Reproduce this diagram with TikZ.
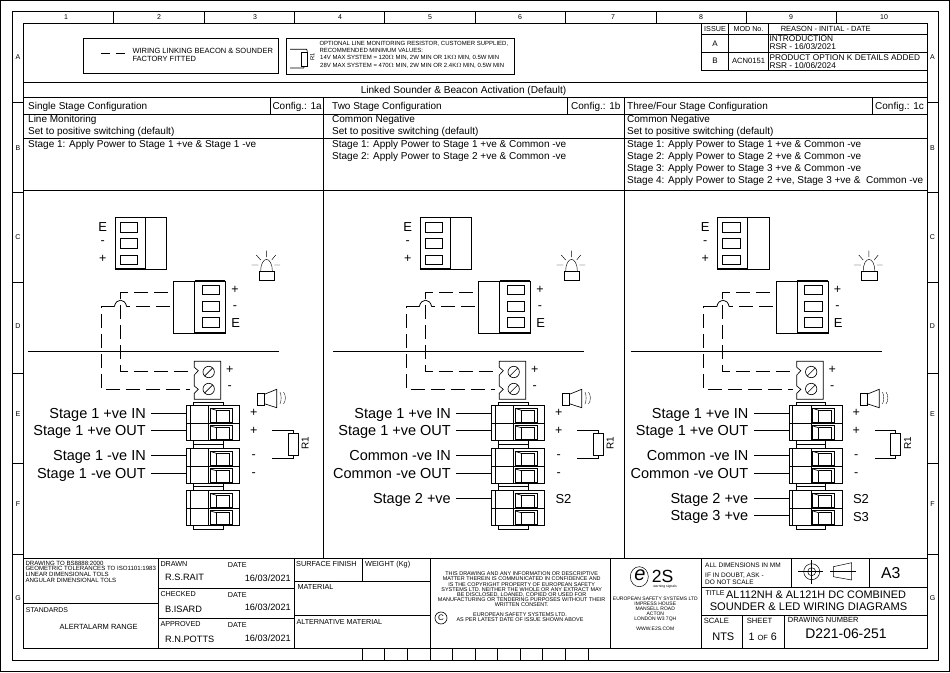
\documentclass[tikz,border=0pt]{standalone}
\usepackage{fontspec}
\setmainfont{Liberation Sans}
\usetikzlibrary{positioning, shapes.geometric}

\tikzset{
    fsz/.style={font=\fontsize{#1}{#1}\selectfont, inner sep=0pt, text height=#1pt*0.72, text depth=0pt},
    lft/.style={fsz=#1, anchor=west},
    rgt/.style={fsz=#1, anchor=east},
    mid/.style={fsz=#1, anchor=center},
    frm/.style={line width=0.8pt},
    thn/.style={line width=0.65pt},
    wire/.style={line width=0.75pt, dash pattern=on 14pt off 6pt},
    lbl/.style={font=\fontsize{14.5}{14.5}\selectfont, inner xsep=5.3pt, inner ysep=0pt, text height=10.44pt, text depth=0pt, anchor=east},
    sign/.style={font=\fontsize{12.5}{12.5}\selectfont, inner sep=0pt, anchor=center},
    blk/.style={inner sep=0pt, align=#1},
    boxnode/.style={draw, thn, anchor=north west, inner sep=0pt},
    % two way plug of the main terminal block
    termpair/.pic={
        \node [boxnode, minimum width=53pt, minimum height=35pt] (-box) at (0,0) {};
        \draw [thn] (0,18) -- (53,18) (4,0) -- (4,35) (22.4,0) -- (22.4,35);
        \foreach \cy in {3,20.5} {
            \draw [thn] (23.7,\cy) rectangle ++(22.3,13.8);
            \draw [thn] (30,\cy+2) -- (30,\cy+13.8) (42.8,\cy+2) -- (42.8,\cy+13.8);
            \draw [line width=1.1pt] (30,\cy+2) -- (43.5,\cy+2);
            \draw [thn] (23.7,\cy) -- (30,\cy+2);
        }
    }
}

\begin{document}
\begin{tikzpicture}[x=1pt, y=-1pt]
    \useasboundingbox (0,0) rectangle (950,672);

    % sheet frame
    \draw [frm] (0.5,0.5) rectangle (949.5,671.5);
    \draw [frm] (12.3,11.7) rectangle (938.7,660.3);
    \draw [frm] (23.7,23.3) rectangle (927.3,648.3);

    % zones
    \foreach \tx in {113.7,204.3,294.7,384.3,475.3,565,656,746.7,836} {
        \draw [frm] (\tx,11.7) -- (\tx,23.3);
    }
    \foreach \tx in {362.3,384.3,407.3,430,452.7,475,497.7,520.7,542.7,565.7,588.7} {
        \draw [frm] (\tx,648.3) -- (\tx,660.3);
    }
    \foreach \ty in {102.7,192.3,282.3,373.3,463.3,554} {
        \draw [frm] (12.3,\ty) -- (23.7,\ty);
        \draw [frm] (927.3,\ty) -- (938.7,\ty);
    }
    \foreach \nx/\nt in {66/1,159/2,255/3,340/4,430/5,520/6,613/7,701/8,791/9,884/10} {
        \node [mid=7] (Zn\nt) at (\nx,16.5) {\nt};
    }
    \foreach \ny/\nt in {57/A,148/B,237/C,326/D,414/E,504/F,598/G} {
        \node [mid=7] (ZL\nt) at (18,\ny) {\nt};
        \node [mid=7] (ZR\nt) at (932.5,\ny) {\nt};
    }

    % legend boxes
    \node [boxnode, minimum width=195pt, minimum height=35pt] (LegA) at (83.3,38.3) {};
    \coordinate (DashA) at (101,53.3);
    \coordinate (DashB) at (125,53.3);
    \draw [line width=0.75pt, dash pattern=on 9pt off 5.6pt] (DashA) -- (DashB);
    \node [lft=7.5] (LegAa) at (132.3,50.3) {WIRING LINKING BEACON \& SOUNDER};
    \node [lft=7.5] (LegAb) at (132.3,58.3) {FACTORY FITTED};

    \node [boxnode, minimum width=228pt, minimum height=36pt] (LegB) at (285.7,38.3) {};
    \node [boxnode, minimum width=6pt, minimum height=14.6pt] (LegR) at (300.7,51.7) {};
    \draw [thn] (290,49.3) -- (306.7,49.3) -- (LegR.north east);
    \draw [thn] (290,68) -- (303.7,68) -- (LegR.south);
    \node [mid=5.8, rotate=90] (LegRtxt) at (312.3,57) {R1};
    \node [lft=6] (LegB1) at (319.3,43.7) {OPTIONAL LINE MONITORING RESISTOR, CUSTOMER SUPPLIED,};
    \node [lft=6] (LegB2) at (319.3,50.7) {RECOMMENDED MINIMUM VALUES:};
    \node [lft=6] (LegB3) at (320,57.8) {14V MAX SYSTEM = 120$\Omega$ MIN, 2W MIN OR 1K$\Omega$ MIN, 0.5W MIN};
    \node [lft=6] (LegB4) at (320,65) {28V MAX SYSTEM = 470$\Omega$ MIN, 2W MIN OR 2.4K$\Omega$ MIN, 0.5W MIN};

    % issue table
    \draw [frm] (701.7,23.3) -- (701.7,70.3) -- (927.3,70.3);
    \draw [frm] (728.7,23.3) -- (728.7,70.3) (768.3,23.3) -- (768.3,70.3);
    \draw [frm] (701.7,34) -- (927.3,34) (701.7,52.3) -- (927.3,52.3);
    \node [mid=7.2] (IssH) at (715,28.5) {ISSUE};
    \node [mid=7.2] (ModH) at (748.5,28.5) {MOD No.};
    \node [mid=7.5] (ReaH) at (825.7,28.5) {REASON - INITIAL - DATE};
    \node [mid=8] (IssA) at (715,43.5) {A};
    \node [mid=8] (IssB) at (715,61) {B};
    \node [mid=7.6] (ModB) at (748.5,61) {ACN0151};
    \node [lft=8.3] (ReaA1) at (769.3,39) {INTRODUCTION};
    \node [lft=8.3] (ReaA2) at (769.3,47) {RSR - 16/03/2021};
    \node [lft=8.3] (ReaB1) at (769.3,57.5) {PRODUCT OPTION K DETAILS ADDED};
    \node [lft=8.3] (ReaB2) at (769.3,66) {RSR - 10/06/2024};

    % table head
    \draw [frm] (23.7,82.7) -- (927.3,82.7) (23.7,97.5) -- (927.3,97.5);
    \draw [frm] (23.7,114) -- (927.3,114) (23.7,138) -- (927.3,138) (23.7,190.7) -- (927.3,190.7);
    \draw [frm] (323.5,97.5) -- (323.5,558.3) (624.7,97.5) -- (624.7,558.3);
    \draw [frm] (270.7,97.5) -- (270.7,114) (567,97.5) -- (567,114) (872,97.5) -- (872,114);
    \node [mid=10.1] (Head) at (463.5,90) {Linked Sounder \& Beacon Activation (Default)};
    \node [lft=10] (Cfg1) at (28,106) {Single Stage Configuration};
    \node [lft=10] (Cfg2) at (332,106) {Two Stage Configuration};
    \node [lft=10] (Cfg3) at (627,106) {Three/Four Stage Configuration};
    \node [lft=10] (Cfg1n) at (272.3,106) {Config.: 1a};
    \node [lft=10] (Cfg2n) at (571,106) {Config.: 1b};
    \node [lft=10] (Cfg3n) at (875,106) {Config.: 1c};
    \node [lft=10] (Mon1) at (28,119) {Line Monitoring};
    \node [lft=10] (Mon2) at (332,119) {Common Negative};
    \node [lft=10] (Mon3) at (627,119) {Common Negative};
    \node [lft=10] (Pos1) at (28,131) {Set to positive switching (default)};
    \node [lft=10] (Pos2) at (332,131) {Set to positive switching (default)};
    \node [lft=10] (Pos3) at (627,131) {Set to positive switching (default)};
    \node [lft=10] (Sta1) at (28,144) {Stage 1: Apply Power to Stage 1 +ve \& Stage 1 -ve};
    \node [lft=10] (Stb1) at (332,144) {Stage 1: Apply Power to Stage 1 +ve \& Common -ve};
    \node [lft=10] (Stb2) at (332,156) {Stage 2: Apply Power to Stage 2 +ve \& Common -ve};
    \node [lft=10] (Stc1) at (627,144) {Stage 1: Apply Power to Stage 1 +ve \& Common -ve};
    \node [lft=10] (Stc2) at (627,156) {Stage 2: Apply Power to Stage 2 +ve \& Common -ve};
    \node [lft=10] (Stc3) at (627,168) {Stage 3: Apply Power to Stage 3 +ve \& Common -ve};
    \node [lft=10] (Stc4) at (627,180) {Stage 4: Apply Power to Stage 2 +ve, Stage 3 +ve \&\ \ Common -ve};

    % the three wiring panels
    \foreach \dx/\pn/\La/\Lb/\Lc/\Ld in {
        0/a/Stage 1 +ve IN/Stage 1 +ve OUT/Stage 1 -ve IN/Stage 1 -ve OUT,
        305/b/Stage 1 +ve IN/Stage 1 +ve OUT/Common -ve IN/Common -ve OUT,
        602.5/c/Stage 1 +ve IN/Stage 1 +ve OUT/Common -ve IN/Common -ve OUT} {
    \begin{scope}[shift={(\dx,0)}]
        % beacon plug, upper
        \node [boxnode, minimum width=51.6pt, minimum height=51.4pt] (\pn-Top) at (114.7,217.3) {};
        \draw [thn] (145.3,217.3) -- (145.3,268.7);
        \draw [line width=1.2pt] (114.7,217.3) -- (145.3,217.3) (114.7,268.7) -- (145.3,268.7);
        \draw [thn] (120.3,222.7) rectangle (137.7,232.7) (120.3,238.3) rectangle (137.7,248.3) (120.3,255) rectangle (137.7,264.3);
        \node [mid=13] (\pn-TopE) at (102.7,227) {E};
        \node [sign] (\pn-TopM) at (102.7,243) {-};
        \node [sign] (\pn-TopP) at (102.7,259) {+};

        % beacon plug, lower
        \node [boxnode, minimum width=52pt, minimum height=51.7pt] (\pn-Bot) at (173.3,281) {};
        \draw [thn] (194.7,281) -- (194.7,332.7);
        \draw [line width=1.2pt] (194.7,281) -- (225.3,281) (194.7,332.7) -- (225.3,332.7);
        \draw [thn] (202.3,285.3) rectangle (219.7,294.7) (202.3,301.3) rectangle (219.7,311.3) (202.3,317.3) rectangle (219.7,327.3);
        \node [sign] (\pn-BotP) at (235,290) {+};
        \node [sign] (\pn-BotM) at (235,308) {-};
        \node [mid=13] (\pn-BotE) at (235.6,323) {E};

        % beacon symbol
        \draw [line width=0.45pt] (260.7,271.3) .. controls (260.7,255.5) and (272.3,255.5) .. (272.3,271.3);
        \draw [line width=0.45pt] (266.3,250.7) -- (266.3,257) (251.7,265) -- (258.3,265) (274.3,265) -- (280,265) (256.3,255) -- (260.7,260) (275.7,255) -- (271.7,260);
        \node [boxnode, minimum width=15.6pt, minimum height=9pt] (\pn-Bcn) at (258.7,271.3) {};

        % screw terminal
        \draw [thn] (194.3,361.3) -- (220.7,361.3) -- (220.7,399.3) -- (194.3,399.3) -- (194.3,393.3) -- (198.3,389.3) -- (194.3,386) -- (194.3,375) -- (198.3,370.7) -- (194.3,367.3) -- cycle;
        \foreach \sy in {372,389} {
            \draw [thn] (208.7,\sy) circle [radius=5.7];
            \draw [thn] (204.6,\sy+4.1) -- (212.8,\sy-4.1);
        }
        \coordinate (\pn-ScrP) at (191,371.7);
        \coordinate (\pn-ScrM) at (190,389.3);
        \node [sign] (\pn-ScrPl) at (229.7,370) {+};
        \node [sign] (\pn-ScrMi) at (229.7,388) {-};

        % linking wires
        \coordinate (\pn-LinkP) at (167.7,292.3);
        \coordinate (\pn-LinkM) at (170,306.7);
        \draw [wire] (\pn-LinkP) -- (120.3,292.3) -- (120.3,371.7) -- (\pn-ScrP);
        \draw [wire] (\pn-LinkM) -- (126.7,306.7);
        \draw [line width=0.75pt] (126.7,306.7) .. controls (125,298) and (116,298) .. (114.3,306.7);
        \draw [wire] (114.3,306.7) -- (101.3,306.7) -- (101.3,389.3) -- (\pn-ScrM);

        % divider
        \coordinate (\pn-DivL) at (28,351.3);
        \coordinate (\pn-DivR) at (279,351.3);
        \draw [frm] (\pn-DivL) -- (\pn-DivR);

        % main terminal block
        \pic (\pn-B1) at (186.3,405.3) {termpair};
        \pic (\pn-B2) at (186.3,448.3) {termpair};
        \pic (\pn-B3) at (186.3,490.3) {termpair};
        \draw [thn] (193.7,405.3) -- (193.7,402.3) -- (223.3,402.3) -- (223.3,405.3);
        \draw [thn] (193.7,440.3) -- (193.7,448.3) (223.3,440.3) -- (223.3,448.3);
        \draw [thn] (193.7,483.3) -- (193.7,490.3) (223.3,483.3) -- (223.3,490.3);
        \draw [thn] (193.7,525.3) -- (193.7,529.3) -- (223.3,529.3) -- (223.3,525.3);
        \draw [line width=1pt] (193.7,444.3) -- (223.3,444.3) (193.7,486.7) -- (223.3,486.7);

        \node [lbl] (\pn-L1) at (151.3,413.3) {\La};
        \node [lbl] (\pn-L2) at (151.3,430.7) {\Lb};
        \node [lbl] (\pn-L3) at (151.3,455.7) {\Lc};
        \node [lbl] (\pn-L4) at (151.3,473.3) {\Ld};
        \draw [thn] (\pn-L1.east) -- (\pn-L1.east -| \pn-B1-box.west);
        \draw [thn] (\pn-L2.east) -- (\pn-L2.east -| \pn-B1-box.west);
        \draw [thn] (\pn-L3.east) -- (\pn-L3.east -| \pn-B2-box.west);
        \draw [thn] (\pn-L4.east) -- (\pn-L4.east -| \pn-B2-box.west);
        \node [sign] (\pn-S1) at (253.7,413.3) {+};
        \node [sign] (\pn-S2) at (253.7,431) {+};
        \node [sign] (\pn-S3) at (253.7,456.5) {-};
        \node [sign] (\pn-S4) at (253.7,474.5) {-};

        % resistor
        \node [boxnode, minimum width=10pt, minimum height=22pt] (\pn-R1) at (287.7,433.3) {};
        \coordinate (\pn-Ra) at (272.3,430.3);
        \coordinate (\pn-Rb) at (272.3,458.7);
        \draw [thn] (\pn-Ra) -| (\pn-R1.north);
        \draw [thn] (\pn-Rb) -| (\pn-R1.south);
        \node [mid=10, rotate=90] (\pn-R1txt) at (305,443.3) {R1};

        % sounder symbol
        \node [boxnode, minimum width=7pt, minimum height=12.6pt] (\pn-Snd) at (257.3,392.7) {};
        \draw [thn] (264.3,394.3) -- (276.7,389.3) -- (276.7,407.7) -- (264.3,403.7);
        \draw [line width=0.35pt] (280,392) .. controls (281.5,395) and (281.5,401) .. (280,404);
        \draw [line width=0.35pt] (283.5,392) .. controls (286,395) and (286,401) .. (283.5,404);
    \end{scope}
    }

    % third block, panels b and c
    \node [lbl] (b-L5) at (456.3,498.7) {Stage 2 +ve};
    \draw [thn] (b-L5.east) -- (b-L5.east -| b-B3-box.west);
    \node [mid=13] (b-S5) at (563.5,499) {S2};
    \node [lbl] (c-L5) at (753.8,498.7) {Stage 2 +ve};
    \node [lbl] (c-L6) at (753.8,515) {Stage 3 +ve};
    \draw [thn] (c-L5.east) -- (c-L5.east -| c-B3-box.west);
    \draw [thn] (c-L6.east) -- (c-L6.east -| c-B3-box.west);
    \node [mid=13] (c-S5) at (861,499) {S2};
    \node [mid=13] (c-S6) at (861,516.5) {S3};

    % title block rules
    \draw [frm] (23.7,558.3) -- (927.3,558.3);
    \draw [frm] (158.3,558.3) -- (158.3,648.3) (294.7,558.3) -- (294.7,648.3) (430,558.3) -- (430,648.3);
    \draw [frm] (610.3,558.3) -- (610.3,648.3) (701.7,558.3) -- (701.7,648.3);
    \draw [frm] (23.7,603.3) -- (158.3,603.3) (158.3,588.3) -- (294.7,588.3) (158.3,618.3) -- (294.7,618.3);
    \draw [frm] (294.7,581.7) -- (430,581.7) (294.7,615.7) -- (430,615.7) (362.3,558.3) -- (362.3,581.7);
    \draw [frm] (701.7,587) -- (927.3,587) (701.7,615.3) -- (927.3,615.3);
    \draw [frm] (791.7,558.3) -- (791.7,587) (869.3,558.3) -- (869.3,587);
    \draw [frm] (742.7,615.3) -- (742.7,648.3) (784.7,615.3) -- (784.7,648.3);

    % title block, left part
    \node [lft=6.1] (Std1) at (25.3,563.3) {DRAWING TO BS8888:2000};
    \node [lft=6.1] (Std2) at (25.3,568.5) {GEOMETRIC TOLERANCES TO ISO1101:1983};
    \node [lft=6.1] (Std3) at (25.3,574.7) {LINEAR DIMENSIONAL TOLS};
    \node [lft=6.1] (Std4) at (25.3,580.7) {ANGULAR DIMENSIONAL TOLS};
    \node [lft=6.9] (StdH) at (25.7,610.3) {STANDARDS};
    \node [mid=7.5] (Range) at (98.7,626.3) {ALERTALARM RANGE};

    \node [lft=7.2] (Drw) at (160.3,564.3) {DRAWN};
    \node [lft=7.2] (Drwd) at (227.7,564.5) {DATE};
    \node [lft=9.2] (Drwn) at (165,577.3) {R.S.RAIT};
    \node [rgt=9.2] (Drwt) at (291,578) {16/03/2021};
    \node [lft=7.2] (Chk) at (160.3,594.3) {CHECKED};
    \node [lft=7.2] (Chkd) at (227.7,595) {DATE};
    \node [lft=9.2] (Chkn) at (165,609) {B.ISARD};
    \node [rgt=9.2] (Chkt) at (291,607.5) {16/03/2021};
    \node [lft=7.2] (App) at (160.3,624) {APPROVED};
    \node [lft=7.2] (Appd) at (227.7,625.3) {DATE};
    \node [lft=9.2] (Appn) at (165,639) {R.N.POTTS};
    \node [rgt=9.2] (Appt) at (291,637.7) {16/03/2021};

    \node [lft=7.3] (Surf) at (296,563.7) {SURFACE FINISH};
    \node [lft=7.3] (Wgt) at (365,563.7) {WEIGHT (Kg)};
    \node [lft=7.3] (Mat) at (297.3,586.7) {MATERIAL};
    \node [lft=7.2] (Alt) at (296.3,621.7) {ALTERNATIVE MATERIAL};

    % copyright note
    \node [blk=center, font=\fontsize{5.45}{5.2}\selectfont] (Copy) at (521.7,589.5) {THIS DRAWING AND ANY INFORMATION OR DESCRIPTIVE\\MATTER THEREIN IS COMMUNICATED IN CONFIDENCE AND\\IS THE COPYRIGHT PROPERTY OF EUROPEAN SAFETY\\SYSTEMS LTD. NEITHER THE WHOLE OR ANY EXTRACT MAY\\BE DISCLOSED, LOANED, COPIED OR USED FOR\\MANUFACTURING OR TENDERING PURPOSES WITHOUT THEIR\\WRITTEN CONSENT.};
    \node [blk=center, font=\fontsize{5.45}{5.2}\selectfont] (CopyB) at (520,617.5) {EUROPEAN SAFETY SYSTEMS LTD.\\AS PER LATEST DATE OF ISSUE SHOWN ABOVE};
    \node [draw, thn, circle, minimum size=12pt, inner sep=0pt, font=\fontsize{8}{8}\selectfont] (CopyC) at (441,618) {C};

    % company
    \node [draw, line width=0.5pt, ellipse, minimum width=18pt, minimum height=20pt] (LogoA) at (639.3,576.7) {};
    \node [inner sep=0pt, font=\fontsize{20}{20}\selectfont\itshape] (LogoE) at (640,575.5) {e};
    \node [lft=17.6] (LogoS) at (651.7,576.5) {2S};
    \node [mid=3.4] (LogoT) at (665,586.5) {warning signals};
    \node [blk=center, font=\fontsize{5}{5}\selectfont] (Addr) at (655.3,609.5) {EUROPEAN SAFETY SYSTEMS LTD\\IMPRESS HOUSE\\MANSELL ROAD\\ACTON\\LONDON W3 7QH};
    \node [mid=5] (Web) at (655.3,629) {WWW.E2S.COM};

    % title block, right part
    \node [lft=6.5] (Dim1) at (705,565) {ALL DIMENSIONS IN MM};
    \node [lft=6.5] (Dim2) at (705,575) {IF IN DOUBT, ASK -};
    \node [lft=6.5] (Dim3) at (705,581.7) {DO NOT SCALE};
    \coordinate (PrjC) at (811.7,571.7);
    \draw [line width=0.5pt] (PrjC) circle [radius=8] (PrjC) circle [radius=4];
    \draw [line width=0.5pt] (798.3,571.7) -- (823.3,571.7) (811.7,560) -- (811.7,584);
    \draw [line width=0.5pt] (833.3,566.7) -- (851.7,562.7) -- (851.7,580) -- (833.3,576.7) -- cycle;
    \draw [line width=0.5pt] (830,571.7) -- (855.5,571.7);
    \node [mid=15.8] (Size) at (890.7,572.7) {A3};
    \node [lft=7] (TitH) at (705.3,593.3) {TITLE};
    \node [lft=10.9] (Tit1) at (726,594.7) {AL112NH \& AL121H DC COMBINED};
    \node [mid=11.1] (Tit2) at (808.5,606.7) {SOUNDER \& LED WIRING DIAGRAMS};
    \node [lft=7.6] (ScaH) at (703.7,620.7) {SCALE};
    \node [lft=7.6] (SheH) at (746.7,620.7) {SHEET};
    \node [lft=7.5] (DrgH) at (787.7,619.3) {DRAWING NUMBER};
    \node [mid=11] (Sca) at (723.3,636.7) {NTS};
    \node [mid=10.7] (She) at (762.7,637) {1 {\fontsize{7.5}{7.5}\selectfont OF} 6};
    \node [mid=13.9] (Drg) at (846,633.3) {D221-06-251};
\end{tikzpicture}
\end{document}
